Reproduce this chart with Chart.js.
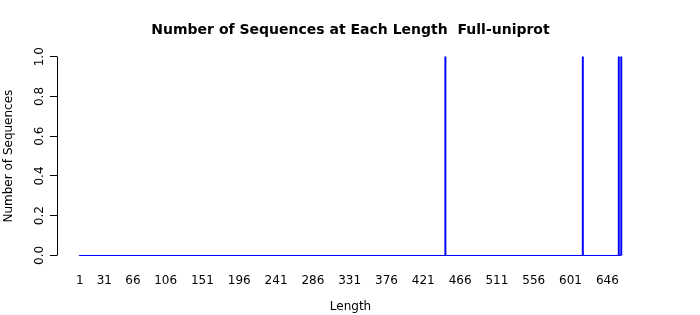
<!DOCTYPE html>
<html>
<head>
<meta charset="utf-8">
<script src="https://cdn.jsdelivr.net/npm/chart.js@4/dist/chart.umd.min.js"></script>
<style>
html, body { margin: 0; padding: 0; background: #fff; }
#wrap { width: 700px; height: 315px; }
</style>
</head>
<body>
<div id="wrap"><canvas id="lengthChart"></canvas></div>
<script>
// Sequence length table (only lengths with a count are listed)
const maxLength = 663;
const peakLengths = [448, 616, 660, 663];
const peakCounts = [1, 1, 1, 1];
const xTickLabels = [1, 31, 66, 106, 151, 196, 241, 286, 331, 376, 421, 466, 511, 556, 601, 646];
const yTickLabels = [0, 0.2, 0.4, 0.6, 0.8, 1.0];

// one count per length, zero where no sequence has that length
const lengths = [];
const counts = [];
for (let k = 1; k <= maxLength; k++) {
    lengths.push(k);
    const i = peakLengths.indexOf(k);
    counts.push(i >= 0 ? peakCounts[i] : 0);
}

const FONT = 'DejaVu Sans';
const xPad = 27.8;

// R-style y axis: line only from first to last tick, labels turned 90 degrees
const rAxis = {
    id: 'rAxis',
    afterDraw(chart) {
        const y = chart.scales.y;
        const ctx = chart.ctx;
        const x0 = Math.round(chart.chartArea.left) + 0.5;
        ctx.save();
        ctx.strokeStyle = '#000';
        ctx.lineWidth = 1;
        ctx.beginPath();
        ctx.moveTo(x0, Math.round(y.getPixelForValue(yTickLabels[0]) - 0.5) + 0.5);
        ctx.lineTo(x0, Math.round(y.getPixelForValue(yTickLabels[yTickLabels.length - 1]) - 0.5) + 0.5);
        ctx.stroke();
        ctx.fillStyle = '#000';
        ctx.font = '12px "' + FONT + '"';
        ctx.textAlign = 'center';
        ctx.textBaseline = 'alphabetic';
        y.ticks.forEach(t => {
            ctx.save();
            ctx.translate(43, y.getPixelForValue(t.value));
            ctx.rotate(-Math.PI / 2);
            ctx.fillText(t.value.toFixed(1), 0, 0);
            ctx.restore();
        });
        ctx.restore();
    }
};

new Chart(document.getElementById('lengthChart'), {
    data: {
        datasets: [
            {
                type: 'bar',
                data: lengths.map((k, i) => ({ x: k, y: counts[i] })),
                backgroundColor: '#0000ff',
                borderWidth: 0,
                barThickness: 1.3,
                order: 1
            },
            {
                type: 'line',
                data: lengths.map(k => ({ x: k, y: 0 })),
                borderColor: '#0000ff',
                borderWidth: 1,
                pointRadius: 0,
                tension: 0,
                order: 2
            }
        ]
    },
    options: {
        responsive: true,
        maintainAspectRatio: false,
        animation: false,
        layout: { padding: { top: 0, right: 56, bottom: 0, left: 0 } },
        plugins: {
            legend: { display: false },
            tooltip: { enabled: false },
            title: {
                display: true,
                fullSize: false,
                text: 'Number of Sequences at Each Length  Full-uniprot',
                color: '#000',
                font: { family: FONT, size: 14, weight: 'bold' },
                padding: { top: 22, bottom: 10 }
            }
        },
        scales: {
            x: {
                type: 'linear',
                offset: false,
                min: 1 - xPad,
                max: maxLength + xPad,
                afterBuildTicks: s => { s.ticks = xTickLabels.map(v => ({ value: v })); },
                afterFit: s => { s.height = 51.6; },
                grid: { display: false, drawTicks: false, offset: false },
                border: { display: false },
                ticks: {
                    color: '#000',
                    font: { family: FONT, size: 12 },
                    padding: 10,
                    maxRotation: 0,
                    autoSkip: false
                },
                title: {
                    display: true,
                    text: 'Length',
                    color: '#000',
                    font: { family: FONT, size: 12 },
                    padding: { top: 0, bottom: 1 }
                }
            },
            y: {
                min: -0.04,
                max: 1.04,
                afterBuildTicks: s => { s.ticks = yTickLabels.map(v => ({ value: v })); },
                afterFit: s => { s.width = 57; },
                grid: { drawOnChartArea: false, color: '#000', tickLength: 7 },
                border: { display: false },
                ticks: { display: false },
                title: {
                    display: true,
                    text: 'Number of Sequences',
                    color: '#000',
                    font: { family: FONT, size: 12 },
                    padding: { top: 2, bottom: 0 }
                }
            }
        }
    },
    plugins: [rAxis]
});
</script>
</body>
</html>
